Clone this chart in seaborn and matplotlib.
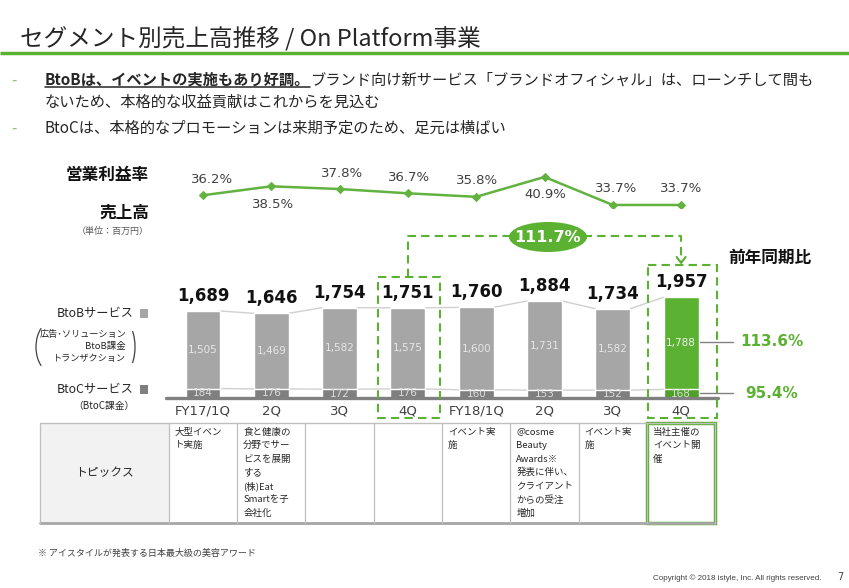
import matplotlib
matplotlib.use("Agg")
import matplotlib.pyplot as plt
from matplotlib.patches import Rectangle, Ellipse, Arc
import seaborn as sns
import pandas as pd

# ===================== DATA =====================
quarters = ["FY17/1Q", "FY17/2Q", "FY17/3Q", "FY17/4Q", "FY18/1Q", "FY18/2Q", "FY18/3Q", "FY18/4Q"]
tick_labels = ["FY17/1Q", "2Q", "3Q", "4Q", "FY18/1Q", "2Q", "3Q", "4Q"]
btob = [1505, 1469, 1582, 1575, 1600, 1731, 1582, 1788]
btoc = [184, 176, 172, 176, 160, 153, 152, 168]
totals = [1689, 1646, 1754, 1751, 1760, 1884, 1734, 1957]
margin = [36.2, 38.5, 37.8, 36.7, 35.8, 40.9, 33.7, 33.7]
yoy_total = "111.7%"
yoy_btob = "113.6%"
yoy_btoc = "95.4%"
topics = [
    "大型イベン\nト実施",
    "食と健康の\n分野でサー\nビスを展開\nする\n(株)Eat\nSmartを子\n会社化",
    "",
    "",
    "イベント実\n施",
    "@cosme\nBeauty\nAwards※\n発表に伴い、\nクライアント\nからの受注\n増加",
    "イベント実\n施",
    "当社主催の\nイベント開\n催",
]

title = "セグメント別売上高推移 / On Platform事業"
bullet1_bold = "BtoBは、イベントの実施もあり好調。"
bullet1_rest = "ブランド向け新サービス「ブランドオフィシャル」は、ローンチして間も"
bullet1_line2 = "ないため、本格的な収益貢献はこれからを見込む"
bullet2 = "BtoCは、本格的なプロモーションは来期予定のため、足元は横ばい"

# ===================== STYLE =====================
GREEN = "#5bb131"
GREEN_DARK = "#4f9f2b"
LINE_GREEN = "#62b23f"
GRAY_B = "#a6a6a6"
GRAY_C = "#7f7f7f"
TXT = "#262626"
JP = ["Noto Sans CJK JP", "DejaVu Sans"]

sns.set_style("white")
plt.rcParams["font.family"] = ["DejaVu Sans", "Noto Sans CJK JP"]

W, H = 849, 588
fig = plt.figure(figsize=(W / 100, H / 100), dpi=100)
fig.patch.set_facecolor("white")


def frame(x0, y0, x1, y1):
    """pixel box (origin top-left) -> figure fraction rect"""
    return [x0 / W, 1 - y1 / H, (x1 - x0) / W, (y1 - y0) / H]


STEP = 68.3
X0 = 203 - STEP / 2
X1 = X0 + 8 * STEP
BAR_W = 0.51

# ===================== BARS =====================
df = pd.DataFrame({"quarter": quarters, "btob": btob, "btoc": btoc})
df["stack"] = df["btob"] + df["btoc"]

ax_bar = fig.add_axes(frame(X0, 295, X1, 398))
ax_bar.patch.set_alpha(0)
top_colors = [GRAY_B] * 7 + [GREEN]
bottom_colors = [GRAY_C] * 7 + [GREEN_DARK]
sns.barplot(data=df, x="quarter", y="stack", hue="quarter", palette=top_colors,
            legend=False, width=BAR_W, saturation=1, errorbar=None, ax=ax_bar, zorder=2)
sns.barplot(data=df, x="quarter", y="btoc", hue="quarter", palette=bottom_colors,
            legend=False, width=BAR_W, saturation=1, errorbar=None, ax=ax_bar, zorder=2)
ax_bar.set_xlim(-0.5, 7.5)
ax_bar.set_ylim(0, 2000)
for s in ax_bar.spines.values():
    s.set_visible(False)
ax_bar.set_yticks([])
ax_bar.set_xlabel("")
ax_bar.set_ylabel("")
ax_bar.set_xticks(range(8))
ax_bar.set_xticklabels(tick_labels, fontsize=9.5, color="#404040")
ax_bar.tick_params(axis="x", length=0, pad=5)

# series lines between bars
half = BAR_W / 2
for i in range(7):
    ax_bar.plot([i + half, i + 1 - half], [df["stack"][i], df["stack"][i + 1]],
                color="#d0d0d0", lw=1, zorder=1)
    ax_bar.plot([i + half, i + 1 - half], [btoc[i], btoc[i + 1]],
                color="#d0d0d0", lw=1, zorder=1)
ax_bar.plot([-0.54, 7.54], [0, 0], color="#808080", lw=2.4, clip_on=False, zorder=3)

for i in range(8):
    ax_bar.annotate(f"{totals[i]:,}", xy=(i, df["stack"][i]), xytext=(0, 15),
                    textcoords="offset pixels", ha="center", va="center",
                    fontsize=12, fontweight="bold", color="#111111")
    ax_bar.text(i, btoc[i] + btob[i] / 2, f"{btob[i]:,}", ha="center", va="center",
                fontsize=7.5, color="#f0f0f0" if i == 7 else "#e6e6e6", zorder=4)
    ax_bar.text(i, btoc[i] / 2, f"{btoc[i]:,}", ha="center", va="center",
                fontsize=7.5, color="#dcdcdc", zorder=4)

# ===================== MARGIN LINE =====================
ax_m = fig.add_axes(frame(X0, 172.7, X1, 207.7))
ax_m.patch.set_alpha(0)
sns.lineplot(x=list(range(8)), y=margin, marker="D", markersize=4, color=LINE_GREEN,
             lw=1.8, markeredgecolor=LINE_GREEN, ax=ax_m)
ax_m.set_xlim(-0.5, 7.5)
ax_m.set_ylim(33, 42)
ax_m.axis("off")
label_above = [True, False, True, True, True, False, True, True]
label_dx = [9, 2, 2, 1, 1, 1, 3, 0]
for i, v in enumerate(margin):
    ax_m.annotate(f"{v:.1f}%", xy=(i, v),
                  xytext=(label_dx[i], 16 if label_above[i] else -18),
                  textcoords="offset pixels", ha="center", va="center",
                  fontsize=9.5, color="#404040")

# ===================== OVERLAY (pixel coords) =====================
ax = fig.add_axes([0, 0, 1, 1])
ax.set_xlim(0, W)
ax.set_ylim(H, 0)
ax.axis("off")
ax.patch.set_alpha(0)
ax.set_zorder(5)

# title + rule
ax.text(20, 38, title, fontsize=17, va="center", ha="left", color=TXT, family=JP)
ax.plot([0, W], [53, 53], color=GREEN, lw=2.5, solid_capstyle="butt")

# bullets
for y in (80, 128):
    ax.text(11, y, "-", fontsize=11, va="center", color="#8fbf6f", family=JP)
tb = ax.text(45, 80, bullet1_bold, fontsize=11, fontweight="bold", va="center",
             color=TXT, family=JP)
r = fig.canvas.get_renderer()
bb = tb.get_window_extent(renderer=r).transformed(ax.transData.inverted())
ax.plot([bb.x0, bb.x1], [bb.y0 - 1, bb.y0 - 1], color=TXT, lw=1.1)
ax.text(bb.x1, 80, bullet1_rest, fontsize=11, va="center", color=TXT, family=JP)
ax.text(45, 102, bullet1_line2, fontsize=11, va="center", color=TXT, family=JP)
ax.text(45, 128, bullet2, fontsize=11, va="center", color=TXT, family=JP)

# left side labels
ax.text(149, 175, "営業利益率", fontsize=12, fontweight="bold", ha="right", va="center",
        color="#111111", family=JP)
ax.text(149, 213, "売上高", fontsize=12, fontweight="bold", ha="right", va="center",
        color="#111111", family=JP)
ax.text(149, 231, "（単位：百万円）", fontsize=6.5, ha="right", va="center",
        color="#595959", family=JP)
ax.text(134, 313, "BtoBサービス", fontsize=8.8, ha="right", va="center", color=TXT, family=JP)
ax.add_patch(Rectangle((140, 308.5), 8, 9, fc=GRAY_B, ec="none"))
ax.text(126, 334, "広告･ソリューション", fontsize=6.6, ha="right", va="center", color=TXT, family=JP)
ax.text(126, 347, "BtoB課金", fontsize=6.8, ha="right", va="center", color=TXT, family=JP)
ax.text(126, 359, "トランザクション", fontsize=6.6, ha="right", va="center", color=TXT, family=JP)
ax.add_patch(Arc((50, 347), 28, 48, theta1=115, theta2=245, color="#404040", lw=0.9))
ax.add_patch(Arc((125, 347), 20, 48, theta1=-65, theta2=65, color="#404040", lw=0.9))
ax.text(134, 389, "BtoCサービス", fontsize=8.8, ha="right", va="center", color=TXT, family=JP)
ax.add_patch(Rectangle((140, 384.5), 8, 9, fc=GRAY_C, ec="none"))
ax.text(104, 406, "（BtoC課金）", fontsize=7, ha="center", va="center", color=TXT, family=JP)

# dashed highlight boxes and connector
dash = (0, (4, 2.5))
ax.add_patch(Rectangle((X0 + 3 * STEP + 4, 277), STEP - 6, 141, fill=False, ec=GREEN,
                       lw=1.5, ls=dash))
ax.add_patch(Rectangle((X0 + 7 * STEP + 1, 265), STEP + 1, 153, fill=False, ec=GREEN,
                       lw=1.5, ls=dash))
cx_a = X0 + 3.5 * STEP
cx_b = X0 + 7.5 * STEP
ax.plot([cx_a, cx_a, cx_b, cx_b], [277, 236, 236, 262], color=GREEN, lw=1.5, ls=dash)
ax.plot([cx_b - 4.5, cx_b, cx_b + 4.5], [257, 263, 257], color=GREEN, lw=1.5)
ax.add_patch(Ellipse((548, 237), 78, 30, fc=GREEN, ec="none", zorder=3))
ax.text(548, 237, yoy_total, fontsize=11.5, fontweight="bold", color="white",
        ha="center", va="center", zorder=4)
ax.text(770, 258, "前年同期比", fontsize=12, fontweight="bold", ha="center", va="center",
        color="#111111", family=JP)

# yoy callouts
ax.plot([700, 733], [342, 342], color="#808080", lw=1)
ax.plot([700, 733], [393, 393], color="#808080", lw=1)
ax.text(772, 342, yoy_btob, fontsize=11, fontweight="bold", color=GREEN, ha="center", va="center")
ax.text(772, 393, yoy_btoc, fontsize=11, fontweight="bold", color=GREEN, ha="center", va="center")

# ===================== TOPICS TABLE =====================
T_TOP, T_BOT = 423, 523
edges = [40] + [X0 + STEP * i for i in range(9)]
ax.add_patch(Rectangle((40, T_TOP), X0 - 40, T_BOT - T_TOP, fc="#f2f2f2", ec="none"))
ax.plot([40, X1], [T_TOP, T_TOP], color="#bfbfbf", lw=1)
ax.plot([40, X1], [T_BOT, T_BOT], color="#a6a6a6", lw=2)
for x in edges:
    ax.plot([x, x], [T_TOP, T_BOT], color="#bfbfbf", lw=0.9)
ax.add_patch(Rectangle((edges[8], T_TOP), STEP, T_BOT - T_TOP, fill=False, ec=GREEN, lw=2.5))
ax.text((40 + X0) / 2, 473, "トピックス", fontsize=8.5, ha="center", va="center", color=TXT, family=JP)
for i, txt in enumerate(topics):
    for k, line in enumerate(txt.split("\n")):
        ax.text(edges[i + 1] + 6, 432 + 13.5 * k, line, fontsize=6.8, ha="left", va="center",
                color=TXT, family=JP)

# footer
ax.text(38, 553, "※ アイスタイルが発表する日本最大級の美容アワード", fontsize=6.5, ha="left",
        va="center", color="#404040", family=JP)
ax.text(822, 578, "Copyright © 2018 istyle, Inc. All rights reserved.", fontsize=5.8,
        ha="right", va="center", color="#404040", family=["Liberation Sans"])
ax.text(840, 577, "7", fontsize=7, ha="center", va="center", color="#404040")

fig.savefig("out.png", dpi=100, facecolor="white")
